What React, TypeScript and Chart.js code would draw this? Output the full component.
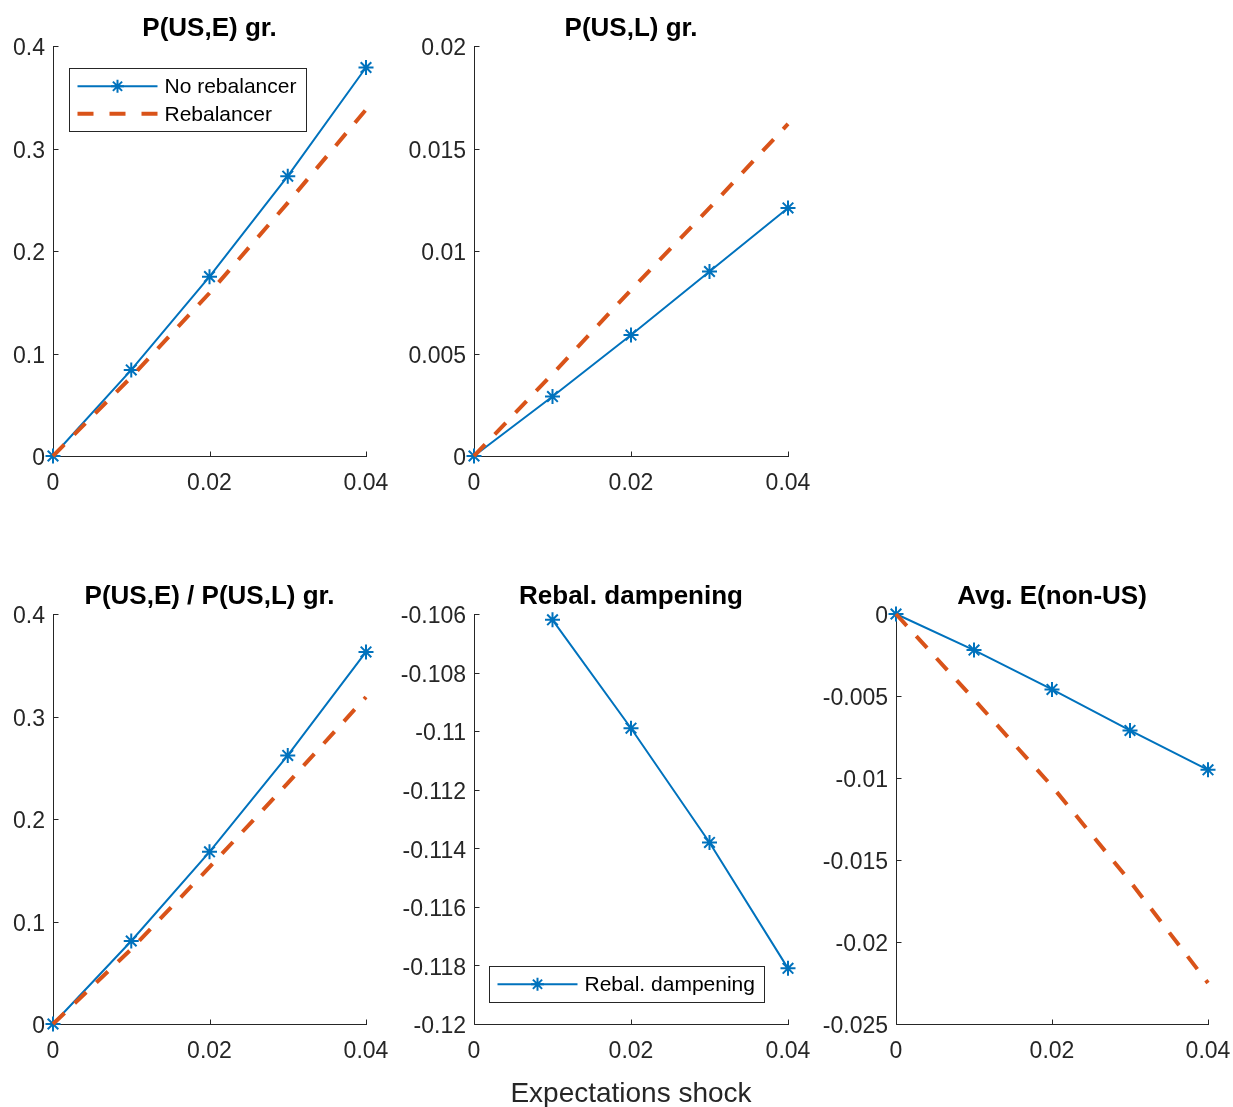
import React, { useEffect, useRef } from "react";
import { Chart, registerables } from "chart.js";

Chart.register(...registerables);

// ---------------- data ----------------
const shock = [0, 0.01, 0.02, 0.03, 0.04];
const xTickValues = [0, 0.02, 0.04];
const xTickLabels = ["0", "0.02", "0.04"];

const usENoReb = [0, 0.084, 0.175, 0.273, 0.379];
const usEReb = [0, 0.077, 0.159, 0.247, 0.338];
const usETicks = [0, 0.1, 0.2, 0.3, 0.4];
const usETickLabels = ["0", "0.1", "0.2", "0.3", "0.4"];

const usLNoReb = [0, 0.0029, 0.0059, 0.009, 0.0121];
const usLReb = [0, 0.004, 0.0081, 0.0121, 0.0162];
const usLTicks = [0, 0.005, 0.01, 0.015, 0.02];
const usLTickLabels = ["0", "0.005", "0.01", "0.015", "0.02"];

const ratioNoReb = [0, 0.081, 0.168, 0.262, 0.363];
const ratioReb = [0, 0.073, 0.153, 0.235, 0.319];
const ratioTicks = [0, 0.1, 0.2, 0.3, 0.4];
const ratioTickLabels = ["0", "0.1", "0.2", "0.3", "0.4"];

const dampening = [null, -0.1062, -0.1099, -0.1138, -0.1181];
const dampTicks = [-0.12, -0.118, -0.116, -0.114, -0.112, -0.11, -0.108, -0.106];
const dampTickLabels = ["-0.12", "-0.118", "-0.116", "-0.114", "-0.112", "-0.11", "-0.108", "-0.106"];

const nonUSNoReb = [0, -0.0022, -0.0046, -0.0071, -0.0095];
const nonUSReb = [0, -0.0052, -0.0105, -0.0163, -0.0225];
const nonUSTicks = [-0.025, -0.02, -0.015, -0.01, -0.005, 0];
const nonUSTickLabels = ["-0.025", "-0.02", "-0.015", "-0.01", "-0.005", "0"];

const titles = ["P(US,E) gr.", "P(US,L) gr.", "P(US,E) / P(US,L) gr.", "Rebal. dampening", "Avg. E(non-US)"];
const legendNoReb = "No rebalancer";
const legendReb = "Rebalancer";
const legendDamp = "Rebal. dampening";
const xAxisTitle = "Expectations shock";

// ---------------- style ----------------
const FONT = "'Liberation Sans', Arial, Helvetica, sans-serif";
const AXIS = "#262626";
const BLUE = "#0072BD";
const ORANGE = "#D95319";
const TOP_M = 60;
const RIGHT_M = 30;

type Series = { label: string; values: (number | null)[]; kind: "solid" | "dashed" };
type LegendCfg = { corner: "nw" | "sw"; dx: number; dy: number };
type PanelCfg = {
  title: string;
  rect: { l: number; t: number; r: number; b: number };
  lm: number;
  bm: number;
  yMin: number;
  yMax: number;
  yTicks: number[];
  yLabels: string[];
  series: Series[];
  legend?: LegendCfg;
  xTitle?: string;
};

const panels: PanelCfg[] = [
  {
    title: titles[0],
    rect: { l: 53, t: 46, r: 366, b: 456 },
    lm: 53, bm: 45,
    yMin: 0, yMax: 0.4, yTicks: usETicks, yLabels: usETickLabels,
    series: [
      { label: legendNoReb, values: usENoReb, kind: "solid" },
      { label: legendReb, values: usEReb, kind: "dashed" },
    ],
    legend: { corner: "nw", dx: 16.3, dy: 22.3 },
  },
  {
    title: titles[1],
    rect: { l: 474, t: 46, r: 788, b: 456 },
    lm: 80, bm: 45,
    yMin: 0, yMax: 0.02, yTicks: usLTicks, yLabels: usLTickLabels,
    series: [
      { label: legendNoReb, values: usLNoReb, kind: "solid" },
      { label: legendReb, values: usLReb, kind: "dashed" },
    ],
  },
  {
    title: titles[2],
    rect: { l: 53, t: 614, r: 366, b: 1024 },
    lm: 53, bm: 45,
    yMin: 0, yMax: 0.4, yTicks: ratioTicks, yLabels: ratioTickLabels,
    series: [
      { label: legendNoReb, values: ratioNoReb, kind: "solid" },
      { label: legendReb, values: ratioReb, kind: "dashed" },
    ],
  },
  {
    title: titles[3],
    rect: { l: 474, t: 614, r: 788, b: 1024 },
    lm: 82, bm: 83,
    yMin: -0.12, yMax: -0.106, yTicks: dampTicks, yLabels: dampTickLabels,
    series: [{ label: legendDamp, values: dampening, kind: "solid" }],
    legend: { corner: "sw", dx: 15.3, dy: 22.3 },
    xTitle: xAxisTitle,
  },
  {
    title: titles[4],
    rect: { l: 896, t: 614, r: 1208, b: 1024 },
    lm: 86, bm: 45,
    yMin: -0.025, yMax: 0, yTicks: nonUSTicks, yLabels: nonUSTickLabels,
    series: [
      { label: legendNoReb, values: nonUSNoReb, kind: "solid" },
      { label: legendReb, values: nonUSReb, kind: "dashed" },
    ],
  },
];

function drawStar(ctx: CanvasRenderingContext2D, x: number, y: number, r: number) {
  const d = r * Math.SQRT1_2;
  ctx.beginPath();
  ctx.moveTo(x - r, y); ctx.lineTo(x + r, y);
  ctx.moveTo(x, y - r); ctx.lineTo(x, y + r);
  ctx.moveTo(x - d, y - d); ctx.lineTo(x + d, y + d);
  ctx.moveTo(x - d, y + d); ctx.lineTo(x + d, y - d);
  ctx.stroke();
}

function decorPlugin(cfg: PanelCfg) {
  return {
    id: "matlabDecor",
    beforeDatasetsDraw(chart: any) {
      const { ctx, chartArea: a, scales } = chart;
      ctx.save();
      ctx.strokeStyle = AXIS;
      ctx.lineWidth = 1;
      const L = Math.round(a.left) + 0.5;
      const B = Math.round(a.bottom) + 0.5;
      ctx.beginPath();
      ctx.moveTo(L, Math.round(a.top));
      ctx.lineTo(L, B);
      ctx.lineTo(Math.round(a.right) + 1, B);
      for (const t of scales.x.ticks) {
        const px = Math.round(scales.x.getPixelForValue(t.value)) + 0.5;
        ctx.moveTo(px, B);
        ctx.lineTo(px, B - 5);
      }
      for (const t of scales.y.ticks) {
        const py = Math.round(scales.y.getPixelForValue(t.value)) + 0.5;
        ctx.moveTo(L, py);
        ctx.lineTo(L + 5, py);
      }
      ctx.stroke();
      ctx.restore();
    },
    afterDatasetsDraw(chart: any) {
      const lg = cfg.legend;
      if (!lg) return;
      const { ctx, chartArea: a } = chart;
      ctx.save();
      ctx.font = `21px ${FONT}`;
      let maxW = 0;
      for (const s of cfg.series) maxW = Math.max(maxW, ctx.measureText(s.label).width);
      const rowH = 27.5;
      const w = 95 + maxW + 10;
      const h = 8 + rowH * cfg.series.length;
      const left = Math.round(a.left + lg.dx) + 0.5;
      const top = lg.corner === "nw" ? Math.round(a.top + lg.dy) + 0.5 : Math.round(a.bottom - lg.dy - h) + 0.5;
      const wr = Math.round(w);
      const hr = Math.round(h);
      ctx.fillStyle = "#ffffff";
      ctx.fillRect(left, top, wr, hr);
      ctx.strokeStyle = AXIS;
      ctx.lineWidth = 1;
      ctx.strokeRect(left, top, wr, hr);
      cfg.series.forEach((s, i) => {
        const cy = top + 4 + rowH * (i + 0.5);
        const x0 = left + 8;
        const x1 = left + 88;
        ctx.save();
        ctx.lineCap = "butt";
        if (s.kind === "solid") {
          ctx.strokeStyle = BLUE;
          ctx.lineWidth = 2;
          ctx.setLineDash([]);
          ctx.beginPath();
          ctx.moveTo(x0, cy);
          ctx.lineTo(x1, cy);
          ctx.stroke();
          drawStar(ctx, (x0 + x1) / 2, cy, 6.5);
        } else {
          ctx.strokeStyle = ORANGE;
          ctx.lineWidth = 4;
          ctx.setLineDash([16, 16]);
          ctx.beginPath();
          ctx.moveTo(x0, cy);
          ctx.lineTo(x1, cy);
          ctx.stroke();
        }
        ctx.restore();
        ctx.fillStyle = "#000000";
        ctx.textAlign = "left";
        ctx.textBaseline = "middle";
        ctx.fillText(s.label, left + 95, cy + 1);
      });
      ctx.restore();
    },
  };
}

function buildConfig(cfg: PanelCfg): any {
  const datasets = cfg.series.map((s) => {
    const data = shock.map((x, i) => ({ x, y: s.values[i] }));
    if (s.kind === "solid") {
      return {
        label: s.label,
        data,
        order: 1,
        borderColor: BLUE,
        backgroundColor: BLUE,
        borderWidth: 2,
        pointStyle: "star",
        pointRadius: 7.5,
        pointBorderWidth: 2,
        pointBorderColor: BLUE,
        pointBackgroundColor: BLUE,
        tension: 0,
        fill: false,
        clip: false,
        spanGaps: false,
      };
    }
    return {
      label: s.label,
      data,
      order: 0,
      borderColor: ORANGE,
      backgroundColor: ORANGE,
      borderWidth: 4,
      borderDash: [16, 14],
      borderCapStyle: "butt",
      pointRadius: 0,
      tension: 0,
      fill: false,
      clip: false,
    };
  });

  const titleLine = 26 * 1.2;
  const titlePadTop = TOP_M - 17.5 - titleLine / 2;
  const titlePadBottom = TOP_M - titlePadTop - titleLine;

  return {
    type: "line",
    data: { datasets },
    options: {
      responsive: false,
      maintainAspectRatio: false,
      animation: false,
      events: [],
      devicePixelRatio: 1,
      layout: { autoPadding: false, padding: { left: 0, top: 0, bottom: 0, right: RIGHT_M } },
      plugins: {
        legend: { display: false },
        tooltip: { enabled: false },
        title: {
          display: true,
          text: cfg.title,
          fullSize: false,
          color: "#000000",
          font: { family: FONT, size: 26, weight: "bold", lineHeight: 1.2 },
          padding: { top: titlePadTop, bottom: titlePadBottom },
        },
      },
      scales: {
        x: {
          type: "linear",
          position: "bottom",
          min: 0,
          max: 0.04,
          grid: { display: false, drawTicks: false },
          border: { display: false },
          afterBuildTicks: (scale: any) => {
            scale.ticks = xTickValues.map((v) => ({ value: v }));
          },
          afterFit: (scale: any) => {
            scale.height = cfg.bm;
            scale.paddingLeft = 0;
            scale.paddingRight = 0;
          },
          ticks: {
            autoSkip: false,
            maxRotation: 0,
            minRotation: 0,
            padding: 14,
            color: AXIS,
            font: { family: FONT, size: 23, lineHeight: 1.2 },
            callback: (_v: any, i: number) => xTickLabels[i],
          },
          title: cfg.xTitle
            ? {
                display: true,
                text: cfg.xTitle,
                color: AXIS,
                font: { family: FONT, size: 28, lineHeight: 0.9 },
                padding: { top: 0, bottom: 0 },
              }
            : { display: false },
        },
        y: {
          type: "linear",
          position: "left",
          min: cfg.yMin,
          max: cfg.yMax,
          grid: { display: false, drawTicks: false },
          border: { display: false },
          afterBuildTicks: (scale: any) => {
            scale.ticks = cfg.yTicks.map((v) => ({ value: v }));
          },
          afterFit: (scale: any) => {
            scale.width = cfg.lm;
            scale.paddingTop = 0;
            scale.paddingBottom = 0;
          },
          ticks: {
            autoSkip: false,
            padding: 8,
            labelOffset: 3,
            color: AXIS,
            font: { family: FONT, size: 23 },
            callback: (_v: any, i: number) => cfg.yLabels[i],
          },
        },
      },
    },
    plugins: [decorPlugin(cfg)],
  };
}

function Panel({ cfg }: { cfg: PanelCfg }) {
  const ref = useRef<HTMLCanvasElement>(null);
  const left = cfg.rect.l - cfg.lm;
  const top = cfg.rect.t - TOP_M;
  const width = cfg.rect.r - cfg.rect.l + cfg.lm + RIGHT_M;
  const height = cfg.rect.b - cfg.rect.t + TOP_M + cfg.bm;
  useEffect(() => {
    if (!ref.current) return;
    const chart = new Chart(ref.current, buildConfig(cfg));
    return () => chart.destroy();
  }, []);
  return (
    <canvas
      ref={ref}
      width={width}
      height={height}
      style={{ position: "absolute", left, top, width, height }}
    />
  );
}

export default function App() {
  return (
    <div
      style={{
        position: "absolute",
        left: 0,
        top: 0,
        width: 1233,
        height: 1107,
        overflow: "hidden",
        background: "#ffffff",
      }}
    >
      {panels.map((p, i) => (
        <Panel key={i} cfg={p} />
      ))}
    </div>
  );
}
